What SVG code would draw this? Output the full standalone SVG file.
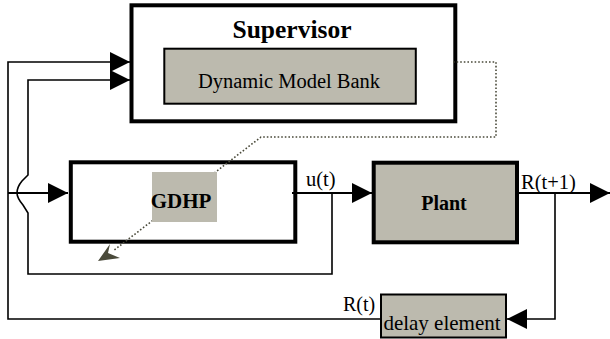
<svg xmlns="http://www.w3.org/2000/svg" width="610" height="339" viewBox="0 0 610 339">
<style>
.box{fill:#ffffff;stroke:#000;stroke-width:4}
.gbox{fill:#bcbaae;stroke:#000;stroke-width:4}
.inner{fill:#bcbaae;stroke:#000;stroke-width:2}
.t{font-family:"Liberation Serif","Times New Roman",serif;fill:#000}
.b{font-weight:bold}
.ln{fill:none;stroke:#000;stroke-width:1.6}
.ln2{fill:none;stroke:#000;stroke-width:2}
.dot{fill:none;stroke:#4a4a3a;stroke-width:1.6;stroke-dasharray:1.6 2}
</style>
<defs>
<marker id="arr" viewBox="0 0 20 20" refX="20" refY="10" markerWidth="21" markerHeight="20" markerUnits="userSpaceOnUse" orient="auto">
<path d="M0,0 L20,10 L0,20 z" fill="#000"/>
</marker>
</defs>
<rect width="610" height="339" fill="#fff"/>
<g id="supervisor">
<rect class="box" x="131.5" y="5.3" width="323.8" height="116"/>
<text class="t b" x="292" y="38" font-size="25.5" text-anchor="middle">Supervisor</text>
</g>
<g id="model-bank">
<rect class="inner" x="164.3" y="48.7" width="251.5" height="55"/>
<text class="t" x="289" y="88" font-size="20.5" text-anchor="middle">Dynamic Model Bank</text>
</g>
<g id="gdhp">
<rect class="box" x="70.8" y="162.3" width="224.5" height="79.4" stroke-width="3.7"/>
</g>
<g id="connectors">
<path class="ln" d="M381,319 H8 V62 H130" marker-end="url(#arr)"/>
<path class="ln" d="M332,193 V274 H28 V213 L23,205 Q17,198 17,193 Q17,187 22,181 L28,175 V80 H130" marker-end="url(#arr)"/>
<path class="ln2" d="M8,193 H68" marker-end="url(#arr)"/>
<path class="ln2" d="M292,193 H372" marker-end="url(#arr)"/>
<path class="ln2" d="M515,193 H610" marker-end="url(#arr)"/>
<path class="ln" d="M555,193 V319 H507" marker-end="url(#arr)"/>
<path class="dot" d="M453,62 H496 V137 H261 L113,251"/>
<path d="M98,261 L110,244 L108,253 L120,258 z" fill="#4a4a3a"/>
<text class="t" x="306" y="186" font-size="20.5">u(t)</text>
<text class="t" x="521" y="189" font-size="20.5">R(t+1)</text>
<text class="t" x="343" y="311" font-size="20">R(t)</text>
</g>
<g id="gdhp-label">
<rect x="152" y="172" width="65" height="50" fill="#bcbaae"/>
<text class="t b" x="181" y="208" font-size="21" text-anchor="middle">GDHP</text>
</g>
<g id="plant">
<rect class="gbox" x="373.7" y="162.7" width="143.3" height="79.6"/>
<text class="t b" x="444" y="210" font-size="20" text-anchor="middle">Plant</text>
</g>
<g id="delay">
<rect class="inner" x="381" y="294.5" width="125" height="43"/>
<text class="t" x="442" y="330" font-size="21" text-anchor="middle">delay element</text>
</g>
</svg>
